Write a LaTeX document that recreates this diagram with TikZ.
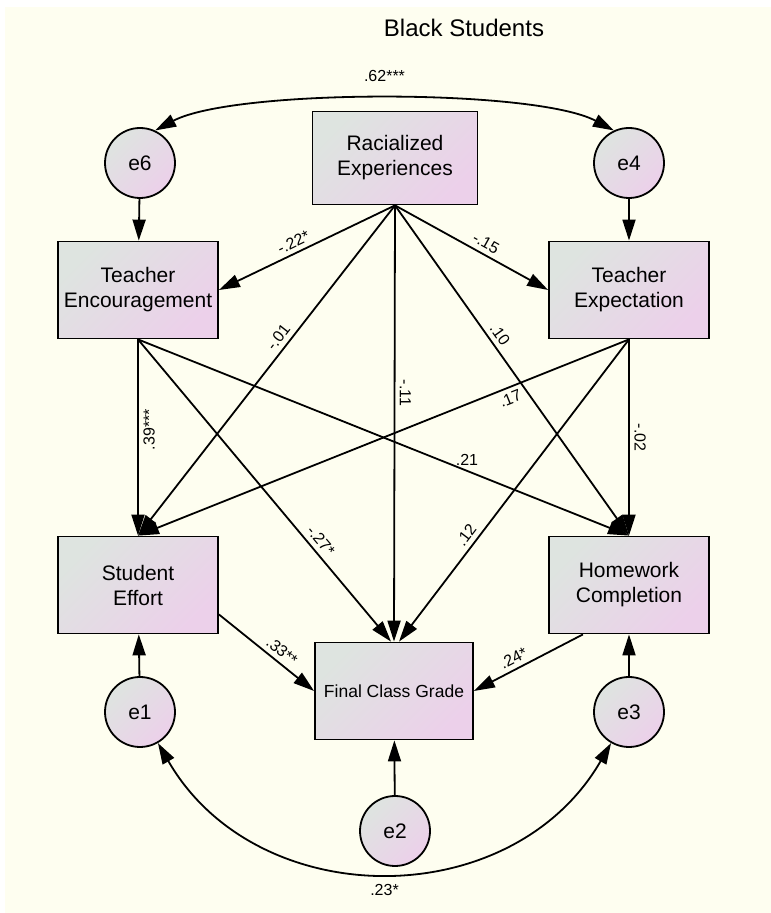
\documentclass[tikz,border=0pt]{standalone}
\usepackage{fontspec}
\setmainfont{Liberation Sans}
\usetikzlibrary{arrows.meta}
\definecolor{paper}{RGB}{254,254,240}
\definecolor{boxgrey}{RGB}{222,228,224}
\definecolor{boxpink}{RGB}{236,208,234}

\begin{document}
\begin{tikzpicture}%
  [x=1pt,y=1pt,
   obs/.style=
    {draw,line width=1.8pt,top color=boxgrey,bottom color=boxpink,shading angle=45,
     minimum width=160pt,minimum height=97pt,align=center,
     font=\fontsize{21}{25}\selectfont},
   res/.style=
    {draw,circle,line width=1.8pt,top color=boxgrey,bottom color=boxpink,shading angle=45,
     minimum size=70pt,inner sep=0pt,font=\fontsize{21}{25}\selectfont},
   effect/.style={line width=1.8pt,-{Triangle[length=21pt,width=13pt]}},
   cov/.style={line width=1.8pt,
     {Triangle[length=21pt,width=13pt]}-{Triangle[length=21pt,width=13pt]}},
   coef/.style={font=\fontsize{16}{18}\selectfont,inner sep=4.5pt}
  ]
  \useasboundingbox (0,0) rectangle (771,913);
  \fill[white] (0,0) rectangle (771,913);
  \fill[paper] (5,0) rectangle (771,906);
  \node[font=\fontsize{24}{28}\selectfont] (title) at (464,885) {Black Students};
  % observed variables
  \node[obs,minimum width=165pt,minimum height=93pt] (rac) at (395,755)
    {Racialized\\Experiences};
  \node[obs] (enc) at (138,623) {Teacher\\Encouragement};
  \node[obs] (exp) at (629,623) {Teacher\\Expectation};
  \node[obs] (eff) at (138,328) {Student\\Effort};
  \node[obs] (hw) at (629,328) {Homework\\Completion};
  \node[obs,minimum width=158pt,font=\fontsize{17.5}{20}\selectfont] (grade)
    at (394,222) {Final Class Grade};
  % residuals
  \node[res] (e6) at (140,750) {e6};
  \node[res] (e4) at (629,750) {e4};
  \node[res] (e1) at (140,201) {e1};
  \node[res] (e3) at (629,201) {e3};
  \node[res] (e2) at (395,82) {e2};
  % paths
  \draw[effect] (rac.south) -- node[coef,sloped,above,pos=.55] {-.22*} (enc.east);
  \draw[effect] (rac.south) -- node[coef,sloped,above,pos=.56] {-.15} (exp.west);
  \draw[effect] (rac.south) -- node[coef,sloped,above,pos=.42] {-.01} (eff.north);
  \draw[effect] (rac.south) -- node[coef,rotate=-90,above,pos=.43] {-.11} (grade.north);
  \draw[effect] (rac.south) -- node[coef,sloped,above,pos=.41] {.10} (hw.north);
  \draw[effect] (enc.south) -- node[coef,rotate=90,below,pos=.46] {.39***} (eff.north);
  \draw[effect] (enc.south) -- node[coef,sloped,above,pos=.69] {-.27*}
    ([xshift=-3pt]grade.north);
  \draw[effect] (enc.south) -- node[coef,above,pos=.67] {.21} (hw.north);
  \draw[effect] (exp.south) -- node[coef,sloped,below,pos=.25] {.17} (eff.north);
  \draw[effect] (exp.south) -- node[coef,sloped,above,pos=.67] {.12}
    ([xshift=5pt]grade.north);
  \draw[effect] (exp.south) -- node[coef,rotate=-90,above,pos=.5] {-.02} (hw.north);
  \draw[effect] (eff.-20) -- node[coef,sloped,above,pos=.59] {.33**} (grade.west);
  \draw[effect] (hw.227) -- node[coef,sloped,above,pos=.59] {.24*} (grade.east);
  \draw[effect] (e6) -- (enc);
  \draw[effect] (e4) -- (exp);
  \draw[effect] (e1) -- (eff);
  \draw[effect] (e3) -- (hw);
  \draw[effect] (e2) -- (grade);
  % covariances
  \draw[cov] (e6.65) to[out=28,in=152,looseness=.5]
    node[coef,above=12pt] {.62***} (e4.115);
  \draw[cov] (e1) to[bend right=60,looseness=1.12]
    node[coef,below=7pt] {.23*} (e3);
\end{tikzpicture}
\end{document}
